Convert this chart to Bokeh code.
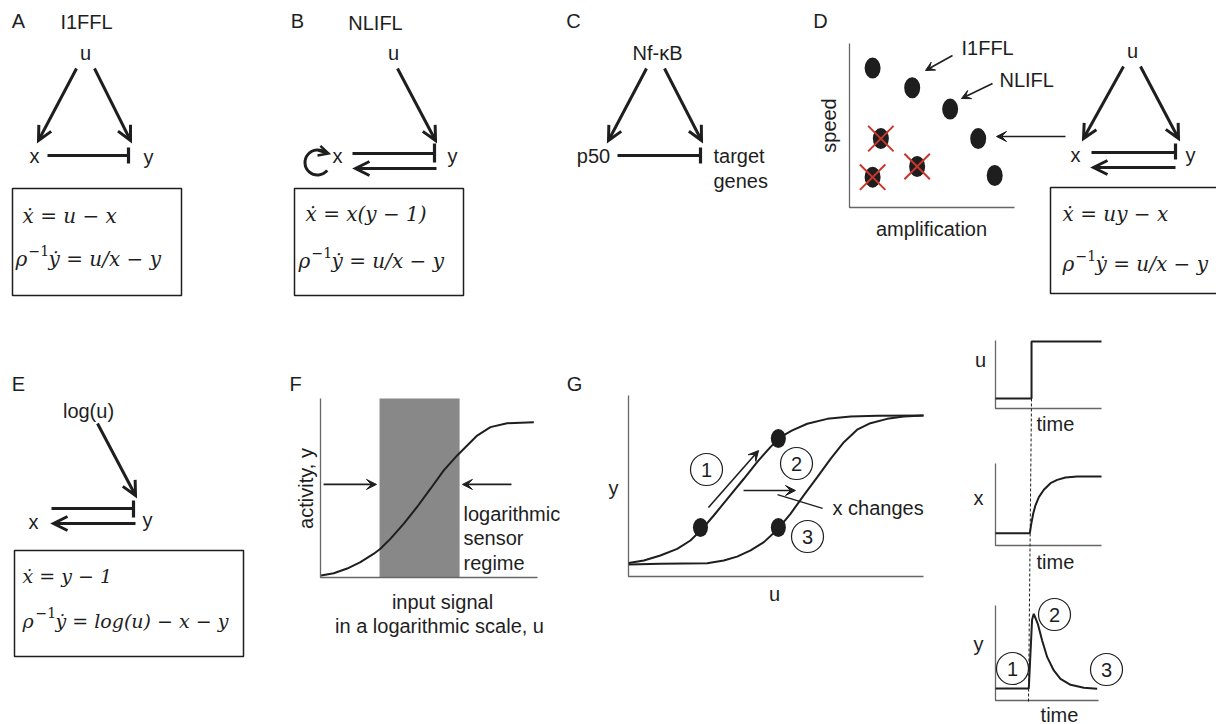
import numpy as np
from bokeh.plotting import figure
from bokeh.models import Range1d, Arrow, OpenHead, VeeHead
from bokeh.core.properties import value
from bokeh.embed import file_html
from bokeh.resources import INLINE

SANS = "Liberation Sans"
SERIF = "DejaVu Serif"
INK = "#1e1e1e"
AXC = "#666666"
RED = "#c8372d"
GREY = "#888888"

# ---------------- data ----------------
# Panel D: circuits placed by amplification / speed
d_amp = [1.4, 3.8, 6.1, 7.8, 8.8, 1.9, 4.1, 1.4]
d_speed = [8.5, 7.3, 6.0, 4.2, 1.95, 4.2, 2.5, 1.85]
d_excluded = [False, False, False, False, False, True, True, True]

# Panel F: activity vs log input
f_u = [0.03, 0.61, 1.23, 1.84, 2.46, 2.76, 3.23, 3.84, 4.45, 5.07, 5.68, 6.30,
       6.76, 7.22, 7.83, 8.60, 9.83]
f_y = [0.011, 0.024, 0.05, 0.086, 0.133, 0.161, 0.217, 0.301, 0.394, 0.496, 0.598,
       0.682, 0.737, 0.793, 0.840, 0.862, 0.868]
f_regime = [2.72, 6.41]
f_arrow_level = 0.52

# Panel G: dose response before / after x changes
g_u1 = [0.01, 0.52, 1.08, 1.65, 2.10, 2.50, 2.89, 3.35, 3.91, 4.36, 4.81, 5.15, 5.55,
        6.06, 6.74, 7.53, 8.43, 10.0]
g_y1 = [0.074, 0.088, 0.116, 0.153, 0.199, 0.263, 0.337, 0.429, 0.540, 0.632, 0.715,
        0.770, 0.807, 0.844, 0.871, 0.884, 0.888, 0.890]
g_u2 = [0.01, 1.08, 2.67, 3.23, 3.68, 4.14, 4.59, 5.04, 5.49, 5.94, 6.40, 6.85, 7.30,
        7.75, 8.20, 8.77, 9.33, 10.0]
g_y2 = [0.066, 0.070, 0.073, 0.088, 0.110, 0.144, 0.190, 0.258, 0.346, 0.448, 0.549,
        0.650, 0.742, 0.811, 0.847, 0.871, 0.884, 0.890]
g_pts_u = [2.44, 5.08, 5.08]
g_pts_y = [0.271, 0.762, 0.271]

# Time courses
t_u = [0.0, 3.4, 3.4, 10.0]
u_sig = [0.15, 0.15, 1.0, 1.0]
t_x = [0.0, 3.24, 3.37, 3.56, 3.77, 4.09, 4.56, 5.19, 5.82, 6.60, 7.71, 10.0]
x_sig = [0.15, 0.15, 0.26, 0.39, 0.49, 0.59, 0.68, 0.76, 0.80, 0.83, 0.84, 0.84]
t_y = [0.0, 3.14, 3.45, 3.61, 3.99, 4.40, 4.88, 5.50, 6.13, 7.08, 8.33, 9.59]
y_sig = [0.126, 0.126, 0.85, 0.913, 0.807, 0.632, 0.456, 0.316, 0.228, 0.165, 0.134, 0.123]

circle_nums = ["1", "2", "3"]

# ---------------- canvas ----------------
W, H = 1216, 724
FX0, FX1, FY0, FY1 = 0, W, 0, H
p = figure(width=W, height=H, x_range=Range1d(FX0, FX1), y_range=Range1d(FY1, FY0),
           output_backend="svg", toolbar_location=None,
           x_axis_location=None, y_axis_location=None, min_border=0,
           outline_line_color=None, background_fill_color="white",
           border_fill_color="white")
p.grid.visible = False

# sub-panels: pixel extents -> data extents through extra ranges
panels = {
    "d": (849, 1014, 0, 10, 207, 43, 0, 10),
    "f": (320, 537, 0, 10, 577, 398, 0, 1),
    "g": (628, 923, 0, 10, 576, 395, 0, 1),
    "tu": (995, 1101, 0, 10, 408, 341, 0, 1),
    "tx": (995, 1101, 0, 10, 545, 463, 0, 1),
    "ty": (995, 1101, 0, 10, 700, 605, 0, 1),
}
exx, exy = {}, {}
for name, (px0, px1, x0, x1, py0, py1, y0, y1) in panels.items():
    sx = (x1 - x0) / (px1 - px0)
    exx[name] = Range1d(x0 + (FX0 - px0) * sx, x0 + (FX1 - px0) * sx)
    sy = (y1 - y0) / (py1 - py0)
    exy[name] = Range1d(y0 + (FY1 - py0) * sy, y0 + (FY0 - py0) * sy)
p.extra_x_ranges = exx
p.extra_y_ranges = exy


def R(name):
    return dict(x_range_name=name, y_range_name=name) if name else {}


def label(x, y, t, size="20px", align="center", angle=0, font=SANS, style="normal"):
    p.text(x=[x], y=[y], text=[t], text_font=value(font), text_font_size=value(size),
           text_align=align, text_baseline="middle", text_color=INK, angle=angle,
           text_font_style=style)


def arrow(x0, y0, x1, y1, kind="open", lw=3.0, size=14, panel=None):
    if kind == "open":
        head = OpenHead(size=size, line_width=lw, line_color=INK, line_join="miter")
    else:
        head = VeeHead(size=size, fill_color=INK, line_color=INK, line_width=1)
    p.add_layout(Arrow(x_start=x0, y_start=y0, x_end=x1, y_end=y1, end=head,
                       line_width=lw, line_color=INK, **R(panel)))


def inhibit(x0, x1, y, bar_top, bar_bot):
    p.segment(x0=[x0, x1], y0=[y, bar_top], x1=[x1, x1], y1=[y, bar_bot],
              line_width=3.2, line_color=INK)


def box(l, t, r, b):
    p.quad(left=[l], right=[r], top=[t], bottom=[b], fill_color=None,
           line_color=INK, line_width=1.5)


def eqs(x0, y1, eq1, y2, rest, x1=None, fs=20):
    if x1 is None:
        x1 = x0
    sz = f"{fs}px"
    label(x0, y1, eq1, size=sz, align="left", font=SERIF, style="italic")
    label(x1, y2, "ρ", size=sz, align="left", font=SERIF, style="italic")
    label(x1 + 13, y2 - 8, "−1", size="14px", align="left", font=SERIF)
    label(x1 + 33, y2, rest, size=sz, align="left", font=SERIF, style="italic")


# ---------------- panel letters ----------------
for t, x, y in [("A", 18, 20), ("B", 297, 20), ("C", 573, 20), ("D", 820, 20),
                ("E", 18, 383), ("F", 295, 383), ("G", 574, 383)]:
    label(x, y, t)

# ---------------- A: I1FFL ----------------
label(86, 21, "I1FFL")
label(85, 52, "u"); label(34, 155, "x"); label(148, 156, "y")
arrow(76, 68, 38, 140); arrow(94, 68, 130, 140)
inhibit(47, 128, 155, 147, 163)
box(12, 188, 181, 295)
eqs(22, 215, "ẋ = u − x", 258, "ẏ = u/x − y", x1=15)

# ---------------- B: NLIFL ----------------
label(375, 22, "NLIFL")
label(393, 52, "u"); label(337, 155, "x"); label(452, 155, "y")
arrow(397, 68, 435, 140)
inhibit(352, 434, 153, 143, 162)
arrow(436, 168, 355, 168)
p.arc(x=[317], y=[162], radius=12.5, start_angle=0.85, end_angle=5.6, line_width=3,
      line_color=INK)
arrow(318, 150, 328, 153, size=10, lw=2.5)
box(294, 188, 463, 295)
eqs(305, 213, "ẋ = x(y − 1)", 260, "ẏ = u/x − y", x1=298)

# ---------------- C: NF-kB ----------------
label(657, 52, "Nf-κB")
label(593, 155, "p50")
label(713, 155, "target", align="left"); label(713, 180, "genes", align="left")
arrow(646, 68, 608, 140); arrow(664, 68, 701, 140)
inhibit(617, 700, 155, 147, 163)

# ---------------- D ----------------
p.line(x=[0, 0, 10], y=[10, 0, 0], line_color=AXC, line_width=1.3, **R("d"))
label(828, 125, "speed", angle=np.pi / 2)
label(931, 228, "amplification")
p.ellipse(x=d_amp, y=d_speed, width=0.97, height=1.28, fill_color=INK,
          line_color=None, **R("d"))
xa = [a for a, e in zip(d_amp, d_excluded) if e]
xs = [s for s, e in zip(d_speed, d_excluded) if e]
p.scatter(x=xa, y=xs, marker="x", size=36, line_color=RED, line_width=2, **R("d"))
label(961, 47, "I1FFL", align="left")
label(999, 79, "NLIFL", align="left")
arrow(952, 55, 925, 70, kind="vee", lw=1.6, size=9)
arrow(992, 83, 961, 98, kind="vee", lw=1.6, size=9)
arrow(1065, 136, 996, 136, kind="vee", lw=1.6, size=10)
label(1132, 50, "u"); label(1075, 154, "x"); label(1190, 154, "y")
arrow(1123, 66, 1083, 138); arrow(1140, 66, 1178, 138)
inhibit(1091, 1175, 152, 143, 159)
arrow(1175, 167, 1093, 167)
box(1050, 187, 1240, 293)
eqs(1062, 213, "ẋ = uy − x", 263, "ẏ = u/x − y")

# ---------------- E ----------------
label(88, 410, "log(u)")
label(33, 521, "x"); label(147, 519, "y")
arrow(97, 423, 135, 495)
inhibit(51, 133, 508, 500, 517)
arrow(135, 523, 53, 523)
box(14, 550, 243, 656)
eqs(22, 575, "ẋ = y − 1", 620, "ẏ = log(u) − x − y", fs=19)

# ---------------- F ----------------
p.quad(left=[f_regime[0]], right=[f_regime[1]], bottom=[0], top=[1], fill_color=GREY,
       line_color=None, **R("f"))
p.line(x=[0, 0, 10], y=[1, 0, 0], line_color=AXC, line_width=1.3, **R("f"))
p.line(x=f_u, y=f_y, line_color=INK, line_width=2, **R("f"))
arrow(0.14, f_arrow_level, 2.58, f_arrow_level, kind="vee", lw=1.6, size=10, panel="f")
arrow(8.8, f_arrow_level, 6.54, f_arrow_level, kind="vee", lw=1.6, size=10, panel="f")
label(305, 488, "activity, y", angle=np.pi / 2)
label(463, 513, "logarithmic", align="left")
label(463, 537, "sensor", align="left")
label(463, 562, "regime", align="left")
label(442, 601, "input signal")
label(439, 625, "in a logarithmic scale, u")

# ---------------- G ----------------
p.line(x=[0, 0, 10], y=[1, 0, 0], line_color=AXC, line_width=1.3, **R("g"))
p.line(x=g_u1, y=g_y1, line_color=INK, line_width=2, **R("g"))
p.line(x=g_u2, y=g_y2, line_color=INK, line_width=2, **R("g"))
p.ellipse(x=g_pts_u, y=g_pts_y, width=0.51, height=0.105, fill_color=INK,
          line_color=None, **R("g"))
arrow(2.71, 0.381, 4.41, 0.696, kind="vee", lw=1.6, size=10, panel="g")
arrow(3.90, 0.475, 5.66, 0.475, kind="vee", lw=1.6, size=10, panel="g")
p.segment(x0=[5.05], y0=[0.453], x1=[6.58], y1=[0.376], line_color=INK, line_width=1.3,
          **R("g"))
label(613, 487, "y"); label(774, 593, "u")
label(832, 507, "x changes", align="left")
gcx, gcy = [706, 796, 807], [469, 463, 536]
p.scatter(x=gcx, y=gcy, marker="circle", size=32, fill_color=None, line_color=INK,
          line_width=1.2)
for t, x, y in zip(circle_nums, gcx, gcy):
    label(x, y, t)

# ---------------- time courses ----------------
for nm, top in [("tu", 1.015), ("tx", 1.0), ("ty", 1.0)]:
    xend = 9.72 if nm == "ty" else 10
    p.line(x=[0, 0, xend], y=[top, 0, 0], line_color=AXC, line_width=1.3, **R(nm))
p.line(x=t_u, y=u_sig, line_color=INK, line_width=2, **R("tu"))
p.line(x=t_x, y=x_sig, line_color=INK, line_width=2, **R("tx"))
p.line(x=t_y, y=y_sig, line_color=INK, line_width=2, **R("ty"))
p.segment(x0=[1031], y0=[398], x1=[1028], y1=[702], line_color=INK, line_width=1,
          line_dash="3 2")
label(980, 359, "u"); label(978, 497, "x"); label(978, 643, "y")
label(1036, 423, "time", align="left")
label(1036, 561, "time", align="left")
label(1059, 714, "time")
tcx, tcy = [1012, 1054, 1106], [668, 614, 669]
p.scatter(x=tcx, y=tcy, marker="circle", size=32, fill_color=None, line_color=INK,
          line_width=1.2)
for t, x, y in zip(circle_nums, tcx, tcy):
    label(x, y, t)

open("out.html", "w").write(file_html(p, INLINE))
